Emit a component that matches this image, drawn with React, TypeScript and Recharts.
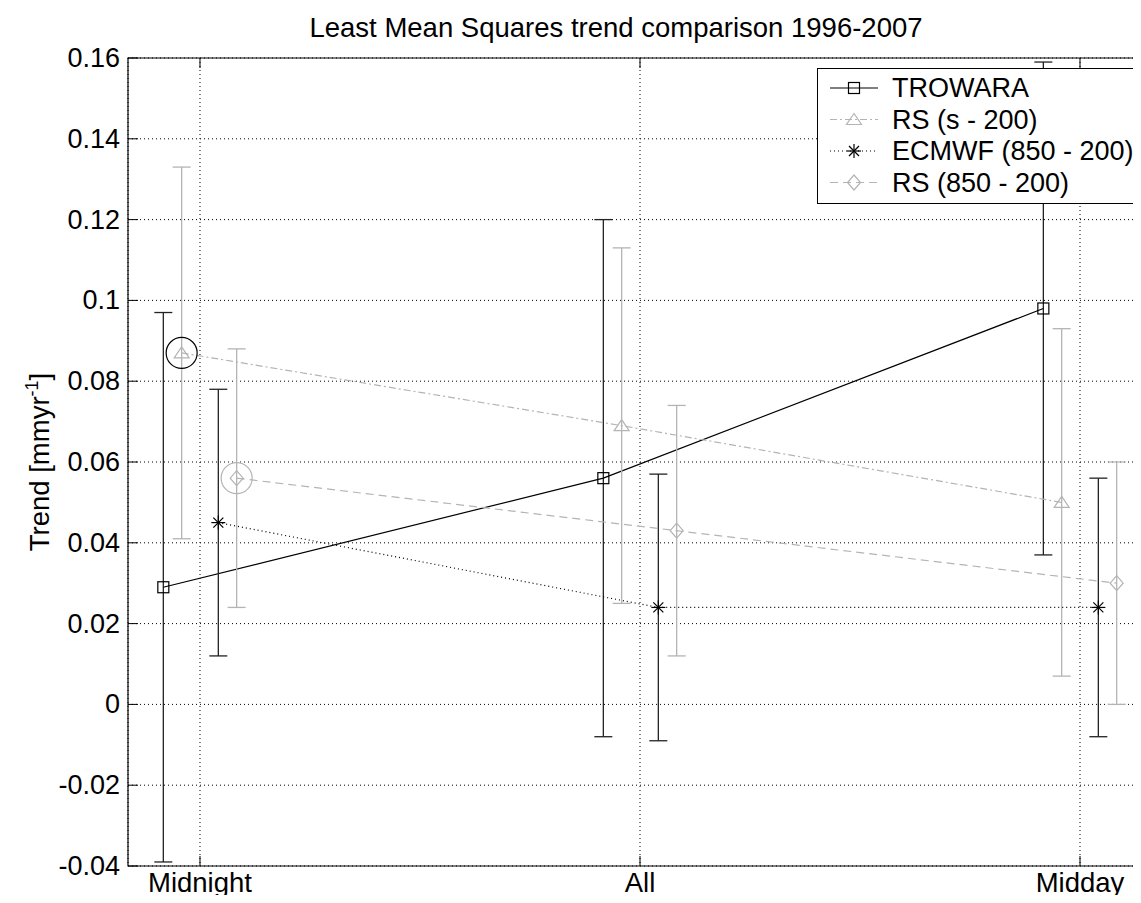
import React from "react";
import {
  ComposedChart,
  Line,
  ErrorBar,
  XAxis,
  YAxis,
  CartesianGrid,
  ReferenceArea,
  ReferenceDot,
  Legend,
} from "recharts";

// values
const categories = ["Midnight", "All", "Midday"];
const yTicks = [-0.04, -0.02, 0, 0.02, 0.04, 0.06, 0.08, 0.1, 0.12, 0.14, 0.16];

const trowara = [0.029, 0.056, 0.098];
const trowaraLow = [-0.039, -0.008, 0.037];
const trowaraHigh = [0.097, 0.12, 0.159];

const rsSurface = [0.087, 0.069, 0.05];
const rsSurfaceLow = [0.041, 0.025, 0.007];
const rsSurfaceHigh = [0.133, 0.113, 0.093];

const ecmwf = [0.045, 0.024, 0.024];
const ecmwfLow = [0.012, -0.009, -0.008];
const ecmwfHigh = [0.078, 0.057, 0.056];

const rs850 = [0.056, 0.043, 0.03];
const rs850Low = [0.024, 0.012, 0.0];
const rs850High = [0.088, 0.074, 0.06];

const X_DOMAIN: [number, number] = [0.8364, 3.1636];
const Y_DOMAIN: [number, number] = [-0.04, 0.16];

// plot box in pixels (chart margins below give these)
const PLOT_LEFT = 128;
const PLOT_RIGHT = 1152;
const PLOT_TOP = 58;
const PLOT_BOTTOM = 866;

const GRAY = "#b4b4b4";
const FONT = "'Liberation Sans', Arial, Helvetica, sans-serif";

function build(values: number[], low: number[], high: number[], offset: number) {
  return values.map((v, i) => ({
    x: i + 1 + offset,
    y: v,
    err: [v - low[i], high[i] - v],
  }));
}

const trowaraData = build(trowara, trowaraLow, trowaraHigh, -1 / 12);
const rsSurfaceData = build(rsSurface, rsSurfaceLow, rsSurfaceHigh, -1 / 24);
const ecmwfData = build(ecmwf, ecmwfLow, ecmwfHigh, 1 / 24);
const rs850Data = build(rs850, rs850Low, rs850High, 1 / 12);

function Square({ cx, cy }: any) {
  return <rect x={cx - 5.5} y={cy - 5.5} width={11} height={11} fill="none" stroke="#000" strokeWidth={1.2} />;
}

function Triangle({ cx, cy, color = GRAY }: any) {
  return (
    <polygon
      points={`${cx},${cy - 6} ${cx - 7.5},${cy + 5} ${cx + 7.5},${cy + 5}`}
      fill="none"
      stroke={color}
      strokeWidth={1.2}
    />
  );
}

function Diamond({ cx, cy, color = GRAY }: any) {
  return (
    <polygon
      points={`${cx},${cy - 7.5} ${cx + 6.5},${cy} ${cx},${cy + 7.5} ${cx - 6.5},${cy}`}
      fill="none"
      stroke={color}
      strokeWidth={1.2}
    />
  );
}

function Star({ cx, cy }: any) {
  const r = 7;
  const d = 5;
  return (
    <g stroke="#000" strokeWidth={1.2}>
      <line x1={cx - r} y1={cy} x2={cx + r} y2={cy} />
      <line x1={cx} y1={cy - r} x2={cx} y2={cy + r} />
      <line x1={cx - d} y1={cy - d} x2={cx + d} y2={cy + d} />
      <line x1={cx - d} y1={cy + d} x2={cx + d} y2={cy - d} />
    </g>
  );
}

function dotOf(Shape: any) {
  return (props: any) => <Shape key={`dot-${props.index}`} cx={props.cx} cy={props.cy} />;
}

function YTick({ y, payload }: any) {
  return (
    <g>
      <line x1={PLOT_LEFT} y1={y} x2={PLOT_LEFT + 10} y2={y} stroke="#000" />
      <line x1={PLOT_RIGHT - 10} y1={y} x2={PLOT_RIGHT} y2={y} stroke="#000" />
      <text
        x={120}
        y={y}
        textAnchor="end"
        dominantBaseline="central"
        fontFamily={FONT}
        fontSize={27}
        fill="#000"
      >
        {String(payload.value)}
      </text>
    </g>
  );
}

function XTick({ x, payload }: any) {
  return (
    <g>
      <line x1={x} y1={PLOT_BOTTOM} x2={x} y2={PLOT_BOTTOM - 10} stroke="#000" />
      <line x1={x} y1={PLOT_TOP} x2={x} y2={PLOT_TOP + 10} stroke="#000" />
      <text x={x} y={892} textAnchor="middle" fontFamily={FONT} fontSize={27.5} fill="#000">
        {categories[payload.value - 1]}
      </text>
    </g>
  );
}

const legendRows = [
  { label: "TROWARA", color: "#000", dash: undefined, Shape: Square },
  { label: "RS (s - 200)", color: GRAY, dash: "7 3 2 3", Shape: Triangle },
  { label: "ECMWF (850 - 200)", color: "#000", dash: "1 3", Shape: Star },
  { label: "RS (850 - 200)", color: GRAY, dash: "8 5", Shape: Diamond },
];

function LegendBox() {
  return (
    <svg width={335} height={136} style={{ display: "block" }}>
      <rect x={0.5} y={0.5} width={334} height={135} fill="#fff" stroke="#000" />
      {legendRows.map((row, i) => {
        const cy = 20 + i * 31.5;
        const Shape = row.Shape;
        return (
          <g key={row.label}>
            <line x1={13} y1={cy} x2={61} y2={cy} stroke={row.color} strokeWidth={1.2} strokeDasharray={row.dash} />
            <Shape cx={37} cy={cy} />
            <text
              x={75}
              y={cy}
              dominantBaseline="central"
              fontFamily={FONT}
              fontSize={27}
              fill="#000"
            >
              {row.label}
            </text>
          </g>
        );
      })}
    </svg>
  );
}

export default function App() {
  return (
    <div
      style={{
        margin: -8,
        width: 1141,
        height: 903,
        overflow: "hidden",
        position: "relative",
        background: "#fff",
      }}
    >
      <ComposedChart
        width={1160}
        height={903}
        margin={{ top: 58, right: 8, bottom: 0, left: 0 }}
      >
        <CartesianGrid stroke="#000" strokeDasharray="1 3" strokeWidth={1} />
        <XAxis
          dataKey="x"
          type="number"
          domain={X_DOMAIN}
          ticks={[1, 2, 3]}
          allowDataOverflow
          height={37}
          tickLine={false}
          axisLine={false}
          tick={<XTick />}
        />
        <YAxis
          type="number"
          domain={Y_DOMAIN}
          ticks={yTicks}
          allowDataOverflow
          width={128}
          tickLine={false}
          axisLine={false}
          tick={<YTick />}
        />
        <ReferenceArea
          x1={X_DOMAIN[0]}
          x2={X_DOMAIN[1]}
          y1={Y_DOMAIN[0]}
          y2={Y_DOMAIN[1]}
          fill="none"
          stroke="#000"
          strokeWidth={1.2}
        />
        <Line
          data={trowaraData}
          dataKey="y"
          stroke="#000"
          strokeWidth={1.2}
          dot={dotOf(Square)}
          activeDot={false}
          isAnimationActive={false}
        >
          <ErrorBar dataKey="err" direction="y" width={9} stroke="#222" strokeWidth={1.3} />
        </Line>
        <Line
          data={rsSurfaceData}
          dataKey="y"
          stroke={GRAY}
          strokeWidth={1.2}
          strokeDasharray="7 3 2 3"
          dot={dotOf(Triangle)}
          activeDot={false}
          isAnimationActive={false}
        >
          <ErrorBar dataKey="err" direction="y" width={9} stroke={GRAY} strokeWidth={1.3} />
        </Line>
        <Line
          data={ecmwfData}
          dataKey="y"
          stroke="#000"
          strokeWidth={1.2}
          strokeDasharray="1 3"
          dot={dotOf(Star)}
          activeDot={false}
          isAnimationActive={false}
        >
          <ErrorBar dataKey="err" direction="y" width={9} stroke="#222" strokeWidth={1.3} />
        </Line>
        <Line
          data={rs850Data}
          dataKey="y"
          stroke={GRAY}
          strokeWidth={1.2}
          strokeDasharray="8 5"
          dot={dotOf(Diamond)}
          activeDot={false}
          isAnimationActive={false}
        >
          <ErrorBar dataKey="err" direction="y" width={9} stroke={GRAY} strokeWidth={1.3} />
        </Line>
        <ReferenceDot
          x={rsSurfaceData[0].x}
          y={rsSurfaceData[0].y}
          r={15.5}
          fill="none"
          stroke="#000"
          strokeWidth={1.2}
        />
        <ReferenceDot
          x={rs850Data[0].x}
          y={rs850Data[0].y}
          r={15.5}
          fill="none"
          stroke={GRAY}
          strokeWidth={1.2}
        />
        <Legend
          layout="horizontal"
          verticalAlign="middle"
          align="center"
          content={() => <LegendBox />}
          wrapperStyle={{ position: "absolute", top: 68, left: 817, width: 335, height: 136 }}
        />
      </ComposedChart>
      <svg
        width={1141}
        height={903}
        style={{ position: "absolute", left: 0, top: 0, pointerEvents: "none" }}
      >
        <text x={616} y={37} textAnchor="middle" fontFamily={FONT} fontSize={27.5} fill="#000">
          Least Mean Squares trend comparison 1996-2007
        </text>
        <text
          transform="translate(49,462) rotate(-90)"
          textAnchor="middle"
          fontFamily={FONT}
          fontSize={27.5}
          fill="#000"
        >
          Trend [mmyr
          <tspan fontSize={18} dy={-11}>-1</tspan>
          <tspan dy={11}>]</tspan>
        </text>
      </svg>
    </div>
  );
}
